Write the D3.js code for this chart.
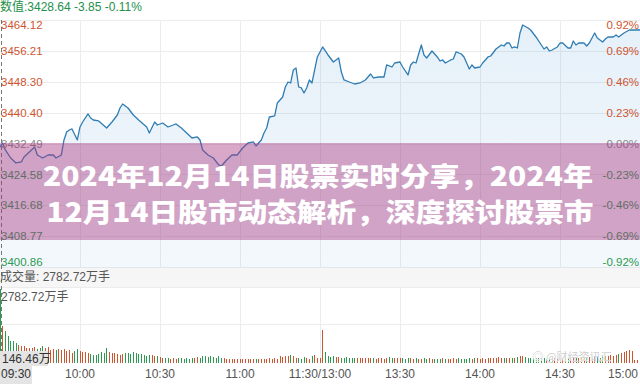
<!DOCTYPE html>
<html><head><meta charset="utf-8">
<script src="https://cdn.jsdelivr.net/npm/d3@7"></script>
<style>body{margin:0;background:#fff;overflow:hidden}svg{display:block}</style>
</head><body>
<svg id="c" width="640" height="384"></svg>
<script>
// ---------- data ----------
const prevClose = 3432.49;
const legendText = "数值:3428.64 -3.85 -0.11%";
const volumeTitle = "成交量: 2782.72万手";
const volumeMaxLabel = "2782.72万手";
const crossVolLabel = "146.46万";
const priceTicks = [3464.12, 3456.21, 3448.30, 3440.40, 3432.49, 3424.58, 3416.68, 3408.77, 3400.86];
const pctTicks = ["0.92%", "0.69%", "0.46%", "0.23%", "0.00%", "-0.23%", "-0.46%", "-0.69%", "-0.92%"];
const timeTickMinutes = [0, 30, 60, 90, 120, 150, 180, 210, 240];
const timeTickLabels = ["09:30", "10:00", "10:30", "11:00", "11:30/13:00", "13:30", "14:00", "14:30", "15:00"];
const titleLines = ["2024年12月14日股票实时分享，2024年", "12月14日股市动态解析，深度探讨股票市"];
const watermark = "@财经资讯汇";

// trading minute since 09:30 (lunch removed) and price
const minutes = [0,1,2,4,6,8,9,11,13,14,16,18,20,21,23,24,25,26,27,29,30,31,33,34,35,37,40,42,44,45,46,48,50,52,55,56,58,59,61,63,65,66,68,70,72,74,75,76,78,80,82,83,85,87,89,91,93,95,96,98,99,100,101,103,104,106,107,108,109,110,111,112,113,114,115,116,117,119,121,123,125,126,127,128,129,131,133,135,137,139,140,142,144,145,147,148,150,151,153,154,155,156,158,159,160,162,164,165,166,167,169,170,171,173,174,175,176,177,178,180,181,183,184,186,188,189,190,191,192,193,194,195,196,198,199,201,203,204,205,206,207,209,210,211,213,214,215,216,217,219,220,221,223,224,226,227,228,230,231,232,234,236,240];
const prices = [3431.60,3432.62,3430.83,3428.78,3427.50,3427.76,3429.04,3430.32,3431.60,3429.55,3428.78,3429.55,3429.55,3428.78,3429.55,3433.39,3435.44,3435.95,3436.21,3433.39,3436.72,3438.00,3440.05,3439.02,3438.51,3438.26,3436.46,3438.00,3439.79,3441.58,3442.61,3441.58,3439.79,3438.51,3436.72,3435.18,3438.00,3437.23,3437.74,3436.72,3437.23,3437.49,3436.46,3435.18,3433.90,3434.16,3433.39,3430.83,3429.55,3428.78,3426.99,3426.73,3428.27,3429.55,3429.55,3431.34,3432.62,3432.88,3431.85,3433.39,3435.18,3436.46,3439.28,3439.54,3442.87,3444.40,3446.96,3448.24,3447.99,3451.32,3451.83,3446.96,3446.71,3445.43,3446.71,3448.76,3447.99,3454.65,3457.21,3455.16,3453.36,3453.88,3454.39,3450.80,3448.76,3448.24,3447.73,3447.99,3448.76,3450.29,3449.27,3449.52,3449.52,3452.60,3452.08,3453.11,3453.36,3452.08,3450.04,3452.60,3453.36,3453.11,3457.72,3455.16,3454.39,3456.18,3454.65,3453.62,3453.88,3453.11,3453.88,3454.13,3455.93,3455.41,3454.65,3453.11,3451.57,3452.60,3451.83,3452.08,3453.11,3454.65,3454.90,3456.69,3457.72,3457.46,3458.23,3458.23,3456.95,3457.21,3456.95,3460.79,3462.84,3462.07,3461.56,3459.77,3457.72,3456.69,3457.21,3456.18,3456.44,3457.21,3458.23,3458.23,3456.95,3456.95,3458.74,3457.72,3458.23,3458.23,3457.46,3458.23,3460.79,3459.51,3458.49,3459.25,3459.77,3459.77,3460.28,3459.77,3460.79,3461.56,3461.56];

// volume per minute (万手), minute 0..240
const volumes = [
2782.72,1377,1188,1000,812,812,752,689,626,626,
564,564,564,590,540,564,626,564,600,501,
526,475,526,475,540,438,501,376,438,526,
438,400,400,376,351,313,313,351,400,376,
564,400,376,376,351,313,351,376,376,351,
400,376,351,351,313,275,313,313,275,250,
225,188,188,188,163,188,163,188,188,163,
188,163,188,188,225,188,275,250,225,250,
225,188,250,188,188,163,163,150,150,140,
150,140,150,163,140,150,150,163,140,150,
163,175,150,188,163,250,225,275,250,313,
250,188,188,163,225,188,163,275,313,200,
188,1240,400,275,225,250,225,225,188,188,
225,200,188,200,175,188,200,175,188,175,
188,163,188,175,163,200,225,188,175,188,
175,188,163,175,188,163,175,150,163,175,
163,175,150,163,163,150,175,163,150,163,
175,163,188,163,150,163,175,163,188,175,
163,175,163,188,200,175,188,225,200,188,
175,188,200,188,225,250,275,225,200,188,
175,188,200,175,188,163,200,188,175,188,
200,188,175,200,188,175,200,188,200,225,
200,225,200,250,225,200,250,275,250,313,
275,313,351,376,400,438,475,451,125,100,
90];

// ---------- layout / style ----------
const W = 640;
const priceTop = 20, priceBottom = 267;
const volTop = 289, volBottom = 363;
const RED = "#cf5530", GREEN = "#2c9a52", GRAY = "#8a8a8a", TXT = "#555";
const FONT = "'Liberation Sans', Arial, 'Noto Sans CJK SC', sans-serif";

const svg = d3.select("#c");
const x = d3.scaleLinear().domain([0, 240]).range([0, W]);
const y = d3.scaleLinear().domain([priceTicks[priceTicks.length - 1], priceTicks[0]]).range([priceBottom, priceTop]);
const vy = d3.scaleLinear().domain([0, d3.max(volumes)]).range([volBottom, volTop]);

const defs = svg.append("defs");
const grad = defs.append("linearGradient").attr("id", "fillG").attr("x1", 0).attr("x2", 0).attr("y1", 0).attr("y2", 1);
grad.append("stop").attr("offset", "0%").attr("stop-color", "#3d8fd0").attr("stop-opacity", 0.13);
grad.append("stop").attr("offset", "100%").attr("stop-color", "#3d8fd0").attr("stop-opacity", 0.06);

// separator band between price & volume panes
svg.append("rect").attr("x", 0).attr("y", priceBottom + 1).attr("width", W).attr("height", volTop - priceBottom - 3).attr("fill", "#f6f6f6");

// grids
const grid = svg.append("g").attr("stroke", "#ececec").attr("stroke-width", 1).attr("shape-rendering", "crispEdges");
grid.selectAll(".h").data(priceTicks).join("line")
  .attr("x1", 0).attr("x2", W).attr("y1", d => Math.round(y(d)) + 0.5).attr("y2", d => Math.round(y(d)) + 0.5);
grid.selectAll(".v").data(timeTickMinutes.slice(1, -1)).join("line")
  .attr("x1", d => Math.round(x(d)) + 0.5).attr("x2", d => Math.round(x(d)) + 0.5).attr("y1", priceTop).attr("y2", priceBottom);
const vgrid = svg.append("g").attr("stroke", "#ececec").attr("shape-rendering", "crispEdges");
[volTop - 2, (volTop + volBottom) / 2 - 2].forEach(v => vgrid.append("line").attr("x1", 0).attr("x2", W).attr("y1", Math.round(v) + 0.5).attr("y2", Math.round(v) + 0.5));
vgrid.selectAll(".v").data(timeTickMinutes.slice(1, -1)).join("line")
  .attr("x1", d => Math.round(x(d)) + 0.5).attr("x2", d => Math.round(x(d)) + 0.5).attr("y1", volTop - 2).attr("y2", volBottom);

// price area + line
const pts = minutes.map((m, i) => [m, prices[i]]);
svg.append("path").datum(pts)
  .attr("d", d3.area().x(d => x(d[0])).y0(priceBottom + 1).y1(d => y(d[1])))
  .attr("fill", "url(#fillG)");
svg.append("path").datum(pts)
  .attr("d", d3.line().x(d => x(d[0])).y(d => y(d[1])))
  .attr("fill", "none").attr("stroke", "#2f7db3").attr("stroke-width", 1.3).attr("stroke-linejoin", "round");

// volume bars, colour from price direction
function dirUp(m) {
  const i = d3.bisectLeft(minutes, m);
  if (i === 0) return prices[0] >= prevClose;
  const j = Math.min(i, minutes.length - 1);
  return prices[j] >= prices[j - 1];
}
svg.append("g").attr("shape-rendering", "crispEdges").selectAll("rect").data(volumes).join("rect")
  .attr("x", (d, i) => Math.floor(x(i)))
  .attr("width", 1)
  .attr("y", d => vy(d))
  .attr("height", d => volBottom - vy(d))
  .attr("fill", (d, i) => dirUp(i) ? RED : GREEN);

// crosshair (dashed vertical)
svg.append("line").attr("x1", 1.5).attr("x2", 1.5).attr("y1", priceTop).attr("y2", volBottom)
  .attr("stroke", "#777").attr("stroke-dasharray", "4,3").attr("stroke-width", 1);

// price axis labels (left) and percent labels (right)
function labelColor(i) {
  const mid = (priceTicks.length - 1) / 2;
  return i < mid ? RED : (i === mid ? GRAY : GREEN);
}
function labelY(i) {
  const v = y(priceTicks[i]);
  if (i === 0) return v + 5;
  if (i === priceTicks.length - 1) return v - 5;
  return v;
}
svg.append("g").selectAll("text").data(priceTicks).join("text")
  .attr("x", 1).attr("y", (d, i) => labelY(i)).attr("dy", "0.36em")
  .attr("font-family", FONT).attr("font-size", 11.5)
  .attr("fill", (d, i) => labelColor(i))
  .text(d => d.toFixed(2));
svg.append("g").selectAll("text").data(pctTicks).join("text")
  .attr("x", W - 1).attr("y", (d, i) => labelY(i)).attr("dy", "0.36em").attr("text-anchor", "end")
  .attr("font-family", FONT).attr("font-size", 11.5)
  .attr("fill", (d, i) => labelColor(i))
  .text(d => d);

// legend top-left
svg.append("text").attr("x", 0).attr("y", 11).attr("font-family", FONT).attr("font-size", 12)
  .attr("fill", "#23904c").text(legendText);

// volume texts
svg.append("text").attr("x", 0).attr("y", 277).attr("dy", "0.36em").attr("font-family", FONT).attr("font-size", 12)
  .attr("fill", TXT).text(volumeTitle);
svg.append("text").attr("x", 1).attr("y", 297).attr("dy", "0.36em").attr("font-family", FONT).attr("font-size", 12)
  .attr("fill", TXT).text(volumeMaxLabel);
svg.append("rect").attr("x", 0).attr("y", 351).attr("width", 48).attr("height", 15).attr("fill", "#e4e4e4");
svg.append("text").attr("x", 2).attr("y", 358.5).attr("dy", "0.36em").attr("font-family", FONT).attr("font-size", 12)
  .attr("fill", "#333").text(crossVolLabel);

// time axis
svg.append("rect").attr("x", 0).attr("y", 366).attr("width", 32).attr("height", 18).attr("fill", "#e4e4e4");
svg.append("g").selectAll("text").data(timeTickMinutes).join("text")
  .attr("x", (d, i) => i === 0 ? 1 : (i === timeTickMinutes.length - 1 ? W - 2 : x(d)))
  .attr("y", 373.5).attr("dy", "0.36em")
  .attr("text-anchor", (d, i) => i === 0 ? "start" : (i === timeTickMinutes.length - 1 ? "end" : "middle"))
  .attr("font-family", FONT).attr("font-size", 12).attr("fill", (d, i) => i === 0 ? "#333" : TXT)
  .text((d, i) => timeTickLabels[i]);

// watermark (kept just above the time labels)
svg.append("text").attr("x", 572).attr("y", 357).attr("dy", "0.36em").attr("text-anchor", "middle")
  .attr("font-family", "'Noto Sans CJK SC', sans-serif").attr("font-size", 11)
  .attr("fill", "#cfcfcf").attr("stroke", "#fff").attr("stroke-width", 0.6).attr("paint-order", "stroke")
  .text("◎ " + watermark);

// title band overlay
svg.append("rect").attr("x", 0).attr("y", 143).attr("width", W).attr("height", 97)
  .attr("fill", "rgb(166,53,127)").attr("fill-opacity", 0.43);
const tl = svg.append("g").attr("font-family", "'Noto Sans CJK SC', sans-serif").attr("font-weight", 900)
  .attr("font-size", 26).attr("fill", "#fff").attr("text-anchor", "middle");
tl.append("text").attr("x", 318).attr("y", 185.5).attr("textLength", 550).attr("lengthAdjust", "spacingAndGlyphs").text(titleLines[0]);
tl.append("text").attr("x", 320).attr("y", 221.5).attr("textLength", 547).attr("lengthAdjust", "spacingAndGlyphs").text(titleLines[1]);
</script>
</body></html>
